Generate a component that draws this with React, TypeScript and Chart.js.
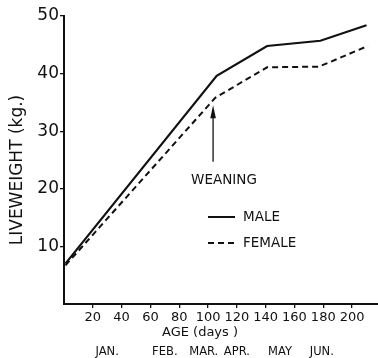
import React, { useEffect, useRef } from "react";
import { Chart, registerables } from "chart.js";

Chart.register(...registerables);

const maleDays = [1, 106, 141, 178, 210];
const maleWeights = [7.0, 39.6, 44.8, 45.7, 48.4];
const femaleDays = [1, 105, 141, 177, 211];
const femaleWeights = [6.7, 35.8, 41.1, 41.2, 44.8];

const xTickValues = [20, 40, 60, 80, 100, 120, 140, 160, 180, 200];
const yTickValues = [10, 20, 30, 40, 50];
const monthDays = [30, 70, 97, 120, 150, 179];
const monthLabels = ["JAN.", "FEB.", "MAR.", "APR.", "MAY", "JUN."];

const weaningDay = 103.5;
const weaningArrowFrom = 24.7;
const weaningArrowTo = 34.5;

const INK = "#111111";
const FONT = "DejaVu Sans";

const annotations = {
  id: "annotations",
  afterDraw(chart: any) {
    const ctx = chart.ctx as CanvasRenderingContext2D;
    const xs = chart.scales.x;
    const ys = chart.scales.y;
    ctx.save();
    ctx.fillStyle = INK;
    ctx.strokeStyle = INK;

    // weaning arrow
    const ax = xs.getPixelForValue(weaningDay);
    const ay0 = ys.getPixelForValue(weaningArrowFrom);
    const ay1 = ys.getPixelForValue(weaningArrowTo);
    ctx.lineWidth = 1.3;
    ctx.beginPath();
    ctx.moveTo(ax, ay0);
    ctx.lineTo(ax, ay1 + 10);
    ctx.stroke();
    ctx.beginPath();
    ctx.moveTo(ax, ay1);
    ctx.lineTo(ax - 2.8, ay1 + 13);
    ctx.lineTo(ax + 2.8, ay1 + 13);
    ctx.closePath();
    ctx.fill();

    ctx.font = `13.5px "${FONT}"`;
    ctx.textAlign = "center";
    ctx.textBaseline = "middle";
    ctx.fillText("WEANING", 224, 180);

    // legend
    const ds = chart.data.datasets;
    ctx.textAlign = "left";
    ctx.font = `13.5px "${FONT}"`;
    ctx.lineWidth = 2;
    ctx.setLineDash([]);
    ctx.beginPath();
    ctx.moveTo(208, 217);
    ctx.lineTo(235, 217);
    ctx.stroke();
    ctx.fillText(ds[0].label, 243, 217);
    ctx.setLineDash([6, 4]);
    ctx.beginPath();
    ctx.moveTo(208, 243);
    ctx.lineTo(236, 243);
    ctx.stroke();
    ctx.setLineDash([]);
    ctx.fillText(ds[1].label, 243, 243);

    // axis titles
    ctx.font = `13px "${FONT}"`;
    ctx.textAlign = "center";
    ctx.fillText("AGE (days )", 200, 333);

    ctx.save();
    ctx.translate(18, 170);
    ctx.rotate(-Math.PI / 2);
    ctx.font = `17px "${FONT}"`;
    ctx.fillText("LIVEWEIGHT (kg.)", 0, 0);
    ctx.restore();

    ctx.restore();
  },
};

export default function App() {
  const ref = useRef<HTMLCanvasElement | null>(null);

  useEffect(() => {
    if (!ref.current) return;
    const chart = new Chart(ref.current, {
      type: "line",
      data: {
        datasets: [
          {
            label: "MALE",
            data: maleDays.map((d, i) => ({ x: d, y: maleWeights[i] })),
            borderColor: INK,
            borderWidth: 2.2,
            pointRadius: 0,
            fill: false,
            tension: 0,
          },
          {
            label: "FEMALE",
            data: femaleDays.map((d, i) => ({ x: d, y: femaleWeights[i] })),
            borderColor: INK,
            borderWidth: 2,
            borderDash: [6, 4],
            pointRadius: 0,
            fill: false,
            tension: 0,
          },
        ],
      },
      options: {
        animation: false,
        responsive: false,
        maintainAspectRatio: false,
        layout: { padding: { top: 16, right: 0, left: 0, bottom: 0 } },
        plugins: {
          legend: { display: false },
          tooltip: { enabled: false },
        },
        scales: {
          x: {
            type: "linear",
            position: "bottom",
            min: 0,
            max: 218,
            afterBuildTicks: (s: any) => {
              s.ticks = xTickValues.map((v) => ({ value: v }));
            },
            afterFit: (s: any) => {
              s.height = 30;
            },
            ticks: {
              color: INK,
              font: { family: FONT, size: 13 },
              padding: 2,
              maxRotation: 0,
              autoSkip: false,
            },
            grid: {
              display: true,
              drawOnChartArea: false,
              drawTicks: true,
              tickLength: 4,
              color: INK,
              lineWidth: 1.3,
            },
            border: { display: true, color: INK, width: 2 },
          },
          x2: {
            type: "linear",
            position: "bottom",
            min: 0,
            max: 218,
            afterBuildTicks: (s: any) => {
              s.ticks = monthDays.map((v) => ({ value: v }));
            },
            afterFit: (s: any) => {
              s.height = 24;
            },
            ticks: {
              color: INK,
              font: { family: FONT, size: 11.5 },
              padding: 11,
              maxRotation: 0,
              autoSkip: false,
              callback: (v: any) => {
                const i = monthDays.indexOf(Number(v));
                return i >= 0 ? monthLabels[i] : "";
              },
            },
            grid: { display: false, drawTicks: false },
            border: { display: false },
          },
          y: {
            type: "linear",
            min: 0,
            max: 50,
            afterBuildTicks: (s: any) => {
              s.ticks = yTickValues.map((v) => ({ value: v }));
            },
            afterFit: (s: any) => {
              s.width = 64;
            },
            ticks: {
              color: INK,
              font: { family: FONT, size: 17 },
              padding: 1,
            },
            grid: {
              display: true,
              drawOnChartArea: false,
              drawTicks: true,
              tickLength: 4,
              color: INK,
              lineWidth: 1.3,
            },
            border: { display: true, color: INK, width: 2 },
          },
        },
      },
      plugins: [annotations],
    });
    return () => chart.destroy();
  }, []);

  return (
    <div style={{ position: "fixed", left: 0, top: 0, width: 378, height: 358, background: "#fff" }}>
      <canvas ref={ref} width={378} height={358} style={{ display: "block", width: 378, height: 358 }} />
    </div>
  );
}
